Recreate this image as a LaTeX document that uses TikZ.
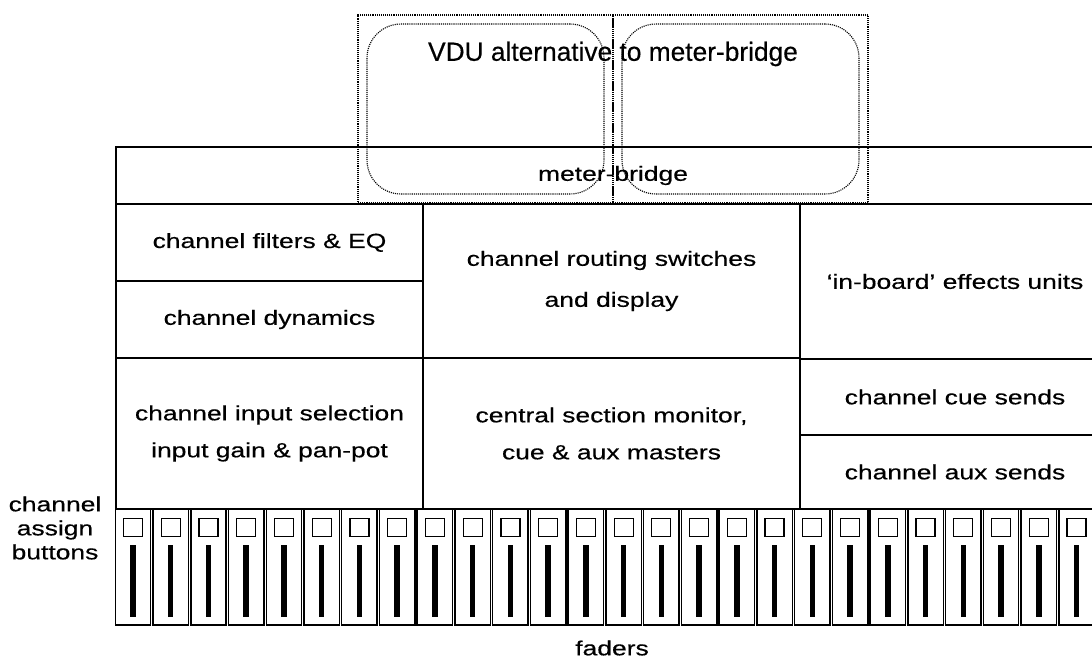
\documentclass[tikz,border=0pt]{standalone}
\usepackage{fontspec}
\setmainfont{Liberation Sans}[FakeStretch=1.29,FakeBold=0.4]
\newfontfamily\vdufont{Liberation Sans}[FakeBold=0.4]
\usetikzlibrary{positioning}

\begin{document}
\begin{tikzpicture}[x=1pt,y=-1pt,
panel/.style={draw,line width=1.8pt,anchor=north west,inner sep=0pt,outer sep=0pt,
align=center,font=\fontsize{20.5}{37}\selectfont},
vdubox/.style={draw,densely dotted,line width=1.1pt,anchor=north west,
minimum width=255,minimum height=188,outer sep=0pt},
vduwin/.style={draw,densely dotted,line width=1.1pt,rounded corners=34pt,
minimum width=237,minimum height=170},
strip/.style={draw,line width=1.5pt,minimum width=35.4,minimum height=116,inner sep=0pt},
btn/.style={draw,line width=1.2pt,minimum width=19,minimum height=18,inner sep=0pt},
bar/.style={fill=black,minimum width=5.5,minimum height=72,inner sep=0pt},
lbl/.style={align=center,font=\fontsize{20.5}{24}\selectfont}]
\useasboundingbox (0,0) rectangle (1092,664);
\clip (0,0) rectangle (1092,664);
% VDU frame over the meter-bridge
\node[vdubox] (vduL) at (358,15) {};
\node[vdubox,right=0pt of vduL.north east,anchor=north west] (vduR) {};
\node[vduwin] (winL) at (vduL.center) {};
\node[vduwin] (winR) at (vduR.center) {};
\node[font=\vdufont\fontsize{26.3}{30}\selectfont] (vdu) at (613,54) {VDU alternative to meter-bridge};
% console panels
\node[panel,minimum width=994,minimum height=57] (meter) at (116,147) {meter-bridge};
\node[panel,minimum width=307,minimum height=77,below=0pt of meter.south west,anchor=north west] (filters) {channel filters \& EQ};
\node[panel,minimum width=307,minimum height=77,below=0pt of filters.south west,anchor=north west] (dynamics) {channel dynamics};
\node[panel,minimum width=377,minimum height=154,right=0pt of filters.north east,anchor=north west] (routing) {channel routing switches\\[4pt]and display};
\node[panel,minimum width=310,minimum height=155,right=0pt of routing.north east,anchor=north west] (effects) {‘in-board’ effects units};
\node[panel,minimum width=307,minimum height=151,below=0pt of dynamics.south west,anchor=north west] (input) {channel input selection\\input gain \& pan-pot};
\node[panel,minimum width=377,minimum height=151,right=0pt of input.north east,anchor=north west] (central) {central section monitor,\\cue \& aux masters};
\node[panel,minimum width=310,minimum height=76,below=0pt of effects.south west,anchor=north west] (cue) {channel cue sends};
\node[panel,minimum width=310,minimum height=74,below=0pt of cue.south west,anchor=north west] (aux) {channel aux sends};
% fader strips
\foreach \i in {0,...,25}{
  \node[strip] (strip\i) at (133+37.74*\i,567) {};
  \node[btn] (btn\i) at (133+37.74*\i,527.5) {};
  \node[bar] (bar\i) at (133+37.74*\i,581) {};
}
\node[lbl] (assign) at (55,528) {channel\\assign\\buttons};
\node[lbl] (faders) at (612,648) {faders};
\end{tikzpicture}
\end{document}
